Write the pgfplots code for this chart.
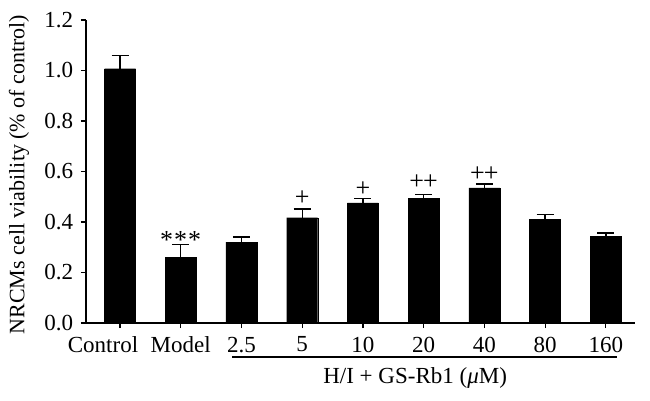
\documentclass[border=0pt]{standalone}
\usepackage{pgfplots}
\pgfplotsset{compat=1.18}
\usepackage{fontspec}
\setmainfont{Liberation Serif}

\begin{document}
\begin{tikzpicture}
\fontsize{23}{27}\selectfont
\begin{axis}[
    name=ax,
    scale only axis,
    width=549pt, height=303pt,
    ybar, bar width=31pt,
    xmin=-0.56, xmax=8.48,
    ymin=0, ymax=1.2,
    axis x line*=bottom, axis y line*=left,
    axis line style={line width=1.2pt},
    tick style={line width=1.2pt, black},
    tick align=outside, major tick length=5pt,
    xtick={0,...,8},
    xticklabels={{\hspace*{-34pt}Control},Model,2.5,5,10,20,40,80,160},
    ytick={0,0.2,...,1.2},
    yticklabel style={/pgf/number format/.cd, fixed, fixed zerofill, precision=1, assume math mode=true},
    ticklabel style={font=\fontsize{23}{27}\selectfont},
    xticklabel style={yshift=-1pt},
    ylabel={NRCMs cell viability (\% of control)},
    ylabel style={at={(axis description cs:-0.122,0.49)}, anchor=center, font=\fontsize{22}{26}\selectfont},
    clip=false,
]
\addplot[fill=black, draw=black,
    error bars/.cd, y dir=plus, y explicit,
    error bar style={line width=1.3pt, black},
    error mark options={rotate=90, mark size=8.5pt, line width=1.3pt, black}]
coordinates {
    (0,1.007) +- (0,0.053)
    (1,0.259) +- (0,0.053)
    (2,0.320) +- (0,0.020)
    (3,0.417) +- (0,0.035)
    (4,0.476) +- (0,0.016)
    (5,0.494) +- (0,0.016)
    (6,0.535) +- (0,0.016)
    (7,0.410) +- (0,0.020)
    (8,0.344) +- (0,0.012)
};
\begin{scope}[every node/.style={font=\fontsize{26}{30}\selectfont, inner sep=0pt}]
\node at (axis cs:1,0.330) {*\kern1pt*\kern1pt*};
\node at (axis cs:3,0.495) {+};
\node at (axis cs:4,0.530) {+};
\node at (axis cs:5,0.557) {+\kern-1pt+};
\node at (axis cs:6,0.588) {+\kern-1pt+};
\end{scope}
\draw[line width=1.2pt] ([yshift=-34pt]axis cs:1.845,0) -- ([yshift=-34pt]axis cs:8.19,0);
\node at ([yshift=-55pt]axis cs:4.86,0) {H/I + GS-Rb1 (\textit{μ}M)};
\end{axis}
\pgfresetboundingbox
\path[use as bounding box] ([xshift=-86pt,yshift=-78pt]ax.south west) rectangle ([xshift=15pt,yshift=20pt]ax.north east);
\end{tikzpicture}
\end{document}
